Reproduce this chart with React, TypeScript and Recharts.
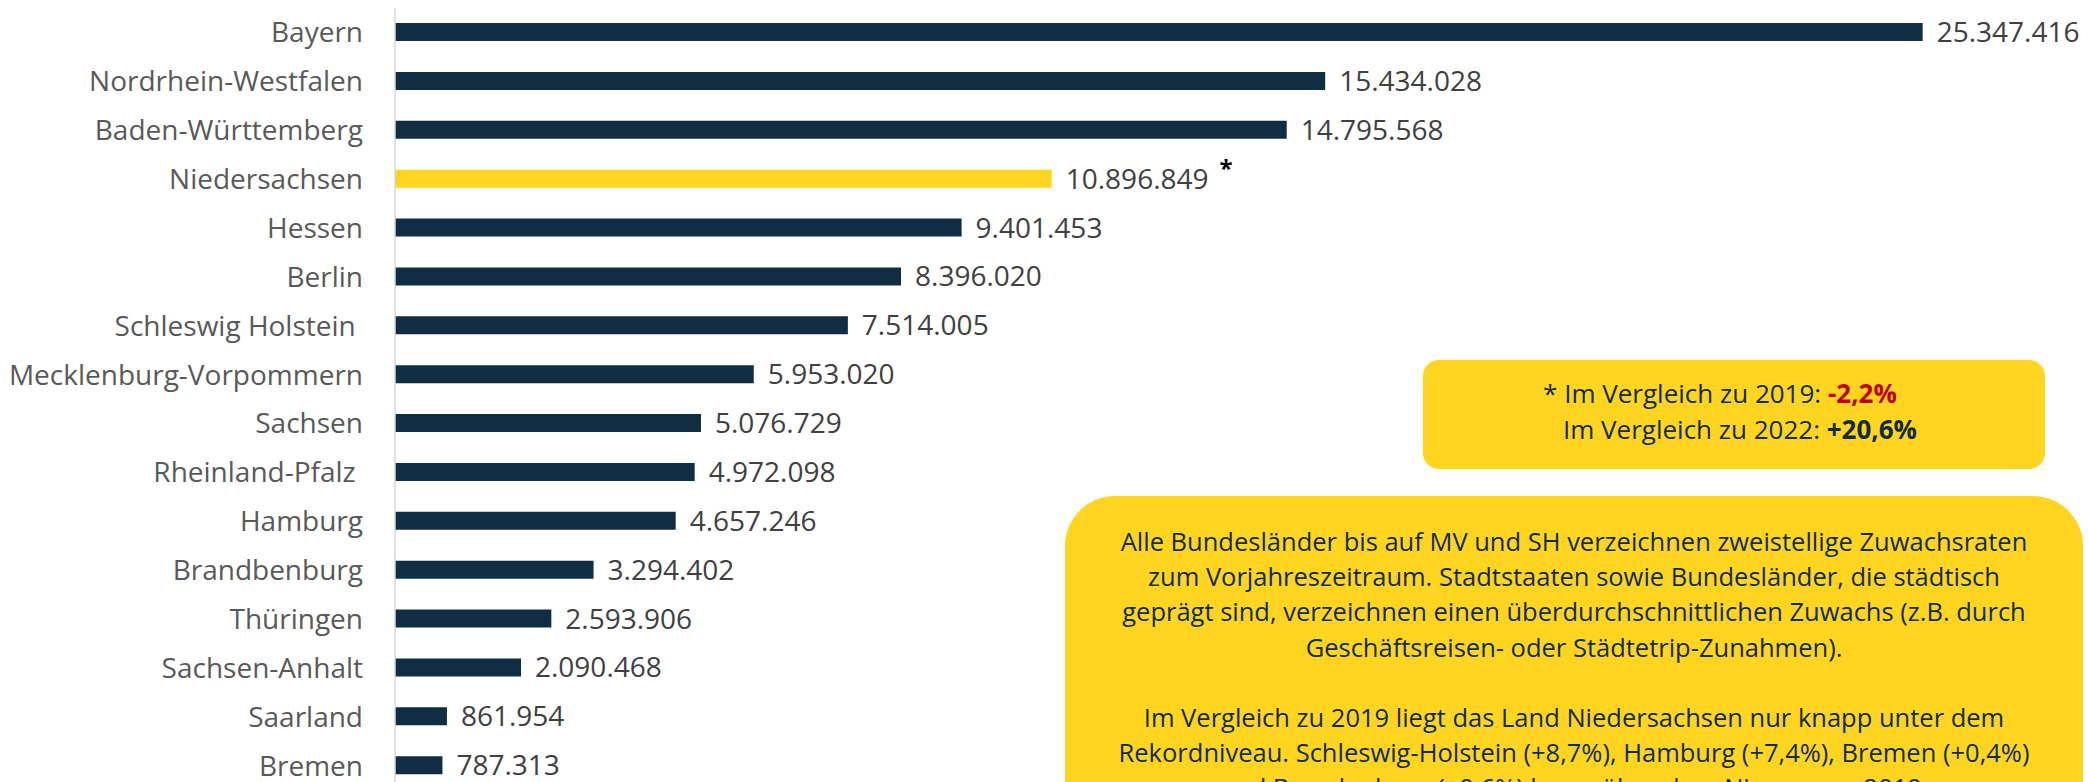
import React from 'react';
import { BarChart, Bar, XAxis, YAxis, LabelList, Cell } from 'recharts';

const states: string[] = [
  'Bayern',
  'Nordrhein-Westfalen',
  'Baden-Württemberg',
  'Niedersachsen',
  'Hessen',
  'Berlin',
  'Schleswig Holstein\u00a0',
  'Mecklenburg-Vorpommern',
  'Sachsen',
  'Rheinland-Pfalz\u00a0',
  'Hamburg',
  'Brandbenburg',
  'Thüringen',
  'Sachsen-Anhalt',
  'Saarland',
  'Bremen',
];

const overnightStays: number[] = [
  25347416, 15434028, 14795568, 10896849, 9401453, 8396020, 7514005, 5953020,
  5076729, 4972098, 4657246, 3294402, 2593906, 2090468, 861954, 787313,
];

const highlightedState = 'Niedersachsen';
const xDomain: [number, number] = [0, 26000000];

const box1Lines = [
  { text: '* Im Vergleich zu 2019: ', strong: '-2,2%', strongColor: '#C00000', shift: -14 },
  { text: 'Im Vergleich zu 2022: ', strong: '+20,6%', strongColor: '#112B45', shift: 6 },
];

const box2Lines: string[] = [
  'Alle Bundesländer bis auf MV und SH verzeichnen zweistellige Zuwachsraten',
  'zum Vorjahreszeitraum. Stadtstaaten sowie Bundesländer, die städtisch',
  'geprägt sind, verzeichnen einen überdurchschnittlichen Zuwachs (z.B. durch',
  'Geschäftsreisen- oder Städtetrip-Zunahmen).',
  '',
  'Im Vergleich zu 2019 liegt das Land Niedersachsen nur knapp unter dem',
  'Rekordniveau. Schleswig-Holstein (+8,7%), Hamburg (+7,4%), Bremen (+0,4%)',
  'und Brandenburg (+0,6%) lagen über dem Niveau von 2019.',
];

const data = states.map((name, i) => ({ name, value: overnightStays[i] }));

const NAVY = '#102E43';
const YELLOW = '#FFD520';
const FONT = '"Open Sans", "Noto Sans", sans-serif';

const fmt = (v: number) => String(v).replace(/\B(?=(\d{3})+(?!\d))/g, '.');

const CategoryTick = (props: any) => {
  const { x, y, payload } = props;
  return (
    <text x={x} y={y + 10} textAnchor="end" fill="#595959" fontSize={28} fontFamily={FONT}>
      {payload.value}
    </text>
  );
};

const ValueLabel = (props: any) => {
  const { x, y, width, height, value } = props;
  const tx = Number(x) + Number(width) + 14;
  const cy = Number(y) + Number(height) / 2;
  const star = value === overnightStays[states.indexOf(highlightedState)];
  return (
    <text x={tx} y={cy + 10} fill="#404040" fontSize={28} fontFamily={FONT}>
      {fmt(Number(value))}
      {star && (
        <tspan dx={11} dy={-12} fontSize={24} fontWeight={700} fill="#000">
          *
        </tspan>
      )}
    </text>
  );
};

export default function App() {
  return (
    <div
      style={{
        position: 'absolute',
        left: 0,
        top: 0,
        width: 2088,
        height: 782,
        overflow: 'hidden',
        background: '#fff',
        fontFamily: FONT,
      }}
    >
      <BarChart
        width={2088}
        height={790}
        data={data}
        layout="vertical"
        margin={{ top: 8, right: 126, bottom: 0, left: 0 }}
      >
        <XAxis type="number" domain={xDomain} hide />
        <YAxis
          type="category"
          dataKey="name"
          width={395}
          interval={0}
          tickLine={false}
          tickSize={6}
          tickMargin={26}
          axisLine={{ stroke: '#D9D9D9', strokeWidth: 1.5 }}
          tick={<CategoryTick />}
        />
        <Bar dataKey="value" barSize={18} isAnimationActive={false}>
          {data.map((d) => (
            <Cell key={d.name} fill={d.name === highlightedState ? YELLOW : NAVY} />
          ))}
          <LabelList dataKey="value" content={<ValueLabel />} />
        </Bar>
      </BarChart>

      <div
        style={{
          position: 'absolute',
          left: 1423,
          top: 360,
          width: 622,
          height: 109,
          borderRadius: 16,
          background: YELLOW,
          boxSizing: 'border-box',
          paddingTop: 15,
          color: '#112B45',
          fontSize: 26,
          lineHeight: '36px',
          textAlign: 'center',
          whiteSpace: 'nowrap',
        }}
      >
        {box1Lines.map((l, i) => (
          <div key={i} style={{ transform: `translateX(${l.shift}px)` }}>
            {l.text}
            <span style={{ fontWeight: 700, color: l.strongColor }}>{l.strong}</span>
          </div>
        ))}
      </div>

      <div
        style={{
          position: 'absolute',
          left: 1065,
          top: 496,
          width: 1018,
          height: 420,
          borderRadius: 50,
          background: YELLOW,
          boxSizing: 'border-box',
          paddingTop: 28,
          color: '#112B45',
          fontSize: 25.5,
          lineHeight: '35.2px',
          textAlign: 'center',
          whiteSpace: 'nowrap',
        }}
      >
        {box2Lines.map((l, i) => (
          <div key={i} style={{ height: 35.2 }}>
            {l || '\u00a0'}
          </div>
        ))}
      </div>
    </div>
  );
}
